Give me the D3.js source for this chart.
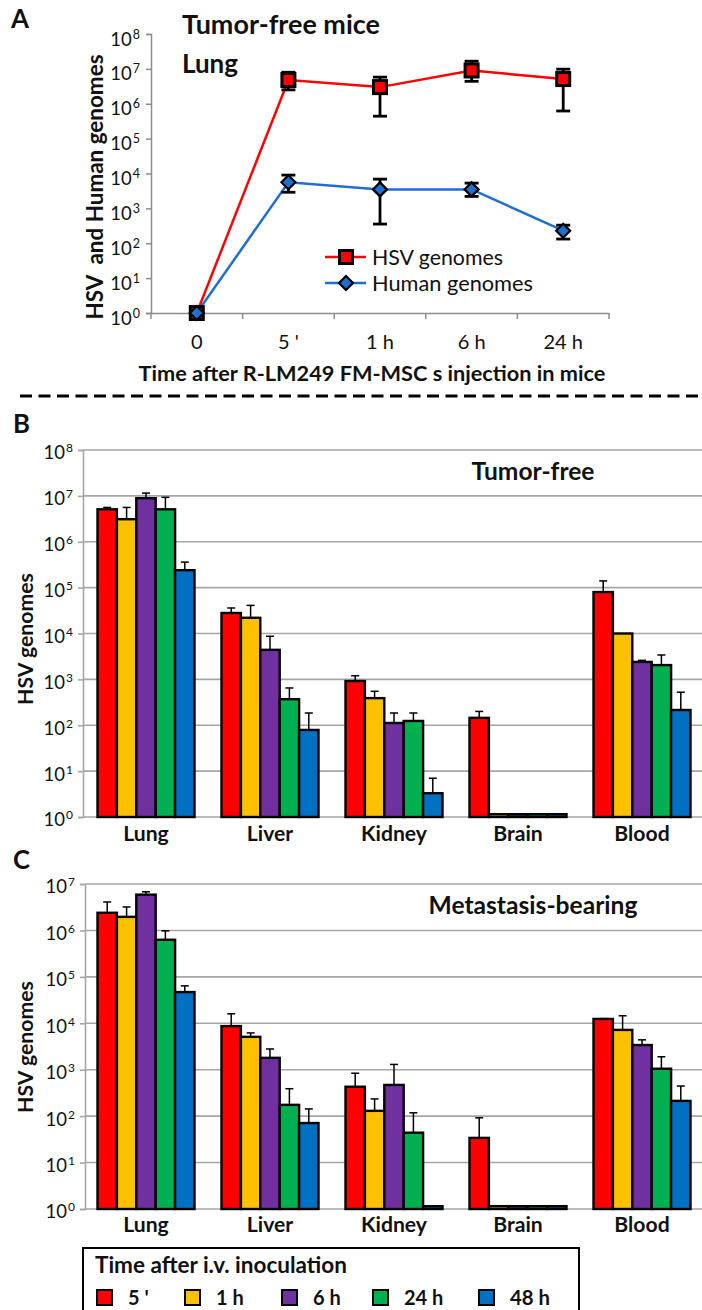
<!DOCTYPE html>
<html><head><meta charset="utf-8">
<script src="https://cdn.jsdelivr.net/npm/d3@7"></script>
<style>body{margin:0;background:#fff} svg text{font-family:Lato,'Open Sans',sans-serif;fill:#111}</style>
</head><body>
<svg id="c" width="702" height="1310"></svg>
<script>
// ---------- Panel A data ----------
const timepointsA = ["0", "5 '", "1 h", "6 h", "24 h"];
const hsvA      = [1, 4.8e6, 3.0e6, 9.0e6, 5.1e6];
const hsvALow   = [1, 2.5e6, 4.4e5, 4.4e6, 6.2e5];
const hsvAHigh  = [1, 8.0e6, 5.8e6, 1.66e7, 9.8e6];
const humanA     = [1, 5.6e3, 3.5e3, 3.5e3, 229];
const humanALow  = [1, 2.9e3, 355, 2.2e3, 132];
const humanAHigh = [1, 9.0e3, 6.9e3, 5.3e3, 330];

// ---------- Panels B / C data ----------
const organs = ["Lung", "Liver", "Kidney", "Brain", "Blood"];
const times = ["5 '", "1 h", "6 h", "24 h", "48 h"];
const timeColors = ["#FF0000", "#FFC000", "#7030A0", "#00B050", "#0070C0"];

// Tumor-free (B), one array per time point, ordered by organ
const b5m  = [5.1e6, 2.8e4, 920, 145, 8.0e4];
const b1h  = [3.1e6, 2.2e4, 390, 1.15, 1.0e4];
const b6h  = [8.9e6, 4.4e3, 112, 1.15, 2.4e3];
const b24h = [5.1e6, 370, 124, 1.15, 2.05e3];
const b48h = [2.4e5, 79, 3.3, 1.15, 215];
const b5mErr  = [5.6e6, 3.6e4, 1.2e3, 200, 1.4e5];
const b1hErr  = [5.6e6, 4.1e4, 550, null, null];
const b6hErr  = [1.15e7, 8.7e3, 185, null, 2.6e3];
const b24hErr = [9.3e6, 650, 185, null, 3.4e3];
const b48hErr = [3.6e5, 185, 7, null, 525];

// Metastasis-bearing (C)
const c5m  = [2.4e6, 8.7e3, 430, 34, 1.24e4];
const c1h  = [1.96e6, 5.1e3, 130, 1.15, 7.2e3];
const c6h  = [5.9e6, 1.8e3, 470, 1.15, 3.4e3];
const c24h = [6.3e5, 175, 44, 1.15, 1.05e3];
const c48h = [4.7e4, 71, 1.15, 1.15, 213];
const c5mErr  = [4.1e6, 1.6e4, 840, 92, 1.26e4];
const c1hErr  = [3.2e6, 6.2e3, 235, null, 1.45e4];
const c6hErr  = [6.8e6, 2.8e3, 1.3e3, null, 4.4e3];
const c24hErr = [9.8e5, 390, 118, null, 1.9e3];
const c48hErr = [6.4e4, 143, null, null, 445];

const svg = d3.select("#c");
const GRAY = "#8c8c8c";

// scale a text's font size so that its rendered width matches the reference
function fit(sel, w) {
  const cur = +sel.attr("font-size");
  const len = sel.node().getComputedTextLength();
  if (len > 0) sel.attr("font-size", (cur * w / len).toFixed(2));
  return sel;
}

function supLabels(sel, size, supSize, dy, mainDy) {
  sel.selectAll(".tick text").each(function(d) {
    const t = d3.select(this).text("");
    t.append("tspan").text("10");
    t.append("tspan").attr("dx", 1).attr("dy", dy).attr("font-size", supSize).text(Math.round(Math.log10(d)));
  }).attr("font-size", size).attr("fill", "#111").attr("dy", mainDy);
}

// ================= PANEL A =================
(function() {
  const x0 = 151, x1 = 609, yTop = 34, yBot = 313;
  const x = d3.scaleBand().domain(timepointsA).range([x0, x1]);
  const y = d3.scaleLog().domain([1, 1e8]).range([yBot, yTop]);
  const decades = d3.range(0, 9).map(e => Math.pow(10, e));
  const g = svg.append("g");

  const ya = g.append("g").attr("transform", `translate(${x0},0)`)
    .call(d3.axisLeft(y).tickValues(decades).tickSize(5).tickPadding(6).tickFormat(() => ""));
  ya.select(".domain").attr("stroke", GRAY).attr("stroke-width", 1.5);
  ya.selectAll(".tick line").attr("stroke", GRAY).attr("stroke-width", 1.5);
  supLabels(ya, 18.5, 12.5, -7, "0.6em");

  const xa = g.append("g").attr("transform", `translate(0,${yBot})`)
    .call(d3.axisBottom(x).tickSize(0).tickPadding(22));
  xa.select(".domain").attr("stroke", GRAY).attr("stroke-width", 1.5);
  xa.selectAll(".tick text").attr("font-size", 20).attr("fill", "#111");
  const bounds = timepointsA.map(d => x(d)).concat([x1]);
  g.selectAll(".xtk").data(bounds).join("line")
    .attr("x1", d => d).attr("x2", d => d).attr("y1", yBot).attr("y2", yBot + 6)
    .attr("stroke", GRAY).attr("stroke-width", 1.5);

  const cx = d => x(d) + x.bandwidth() / 2;
  const line = d3.line().x(d => cx(d.t)).y(d => y(d.v));
  const hsv = timepointsA.map((t, i) => ({t, v: hsvA[i], lo: hsvALow[i], hi: hsvAHigh[i]}));
  const hum = timepointsA.map((t, i) => ({t, v: humanA[i], lo: humanALow[i], hi: humanAHigh[i]}));

  g.append("path").datum(hsv).attr("d", line).attr("fill", "none").attr("stroke", "#FF0000").attr("stroke-width", 2.5);
  g.append("path").datum(hum).attr("d", line).attr("fill", "none").attr("stroke", "#1F6FD0").attr("stroke-width", 2.5);

  function errBars(data) {
    const eb = g.append("g").attr("stroke", "#000").attr("stroke-width", 2.8);
    data.filter(d => d.hi > d.lo).forEach(d => {
      eb.append("line").attr("x1", cx(d.t)).attr("x2", cx(d.t)).attr("y1", y(d.hi)).attr("y2", y(d.lo));
      eb.append("line").attr("x1", cx(d.t) - 7).attr("x2", cx(d.t) + 7).attr("y1", y(d.hi)).attr("y2", y(d.hi));
      eb.append("line").attr("x1", cx(d.t) - 7).attr("x2", cx(d.t) + 7).attr("y1", y(d.lo)).attr("y2", y(d.lo));
    });
  }
  errBars(hsv);
  errBars(hum);

  const sq = 13;
  g.selectAll(".sq").data(hsv).join("rect")
    .attr("x", d => cx(d.t) - sq / 2).attr("y", d => y(d.v) - sq / 2)
    .attr("width", sq).attr("height", sq)
    .attr("fill", "#FF0000").attr("stroke", "#000").attr("stroke-width", 3);
  const dm = 7;
  const diamond = (px, py) => `M${px},${py - dm}L${px + dm},${py}L${px},${py + dm}L${px - dm},${py}Z`;
  g.selectAll(".dm").data(hum).join("path")
    .attr("d", d => diamond(cx(d.t), y(d.v)))
    .attr("fill", "#1F6FD0").attr("stroke", "#000").attr("stroke-width", 2.2);

  // legend
  const lg = g.append("g");
  lg.append("line").attr("x1", 325).attr("x2", 366).attr("y1", 257).attr("y2", 257).attr("stroke", "#FF0000").attr("stroke-width", 2.5);
  lg.append("rect").attr("x", 346 - sq / 2).attr("y", 257 - sq / 2).attr("width", sq).attr("height", sq)
    .attr("fill", "#FF0000").attr("stroke", "#000").attr("stroke-width", 3);
  fit(lg.append("text").attr("x", 372).attr("y", 257).attr("dy", "0.36em").attr("font-size", 19).text("HSV genomes"), 131);
  lg.append("line").attr("x1", 325).attr("x2", 366).attr("y1", 283).attr("y2", 283).attr("stroke", "#1F6FD0").attr("stroke-width", 2.5);
  lg.append("path").attr("d", diamond(346, 283)).attr("fill", "#1F6FD0").attr("stroke", "#000").attr("stroke-width", 2.2);
  fit(lg.append("text").attr("x", 372).attr("y", 283).attr("dy", "0.36em").attr("font-size", 19).text("Human genomes"), 161);

  // titles & labels
  fit(g.append("text").attr("x", 11).attr("y", 28).attr("font-size", 24).attr("font-weight", 700).text("A"), 18);
  fit(g.append("text").attr("x", 182).attr("y", 34).attr("font-size", 22).attr("font-weight", 700).text("Tumor-free mice"), 198);
  fit(g.append("text").attr("x", 182).attr("y", 73).attr("font-size", 22).attr("font-weight", 700).text("Lung"), 56);
  fit(g.append("text").attr("transform", "translate(95,187) rotate(-90)").attr("text-anchor", "middle")
    .attr("dy", "0.35em").attr("font-size", 19).attr("font-weight", 700).attr("xml:space", "preserve")
    .text("HSV  and Human genomes"), 265);
  fit(g.append("text").attr("x", 372).attr("y", 381).attr("text-anchor", "middle")
    .attr("font-size", 19).attr("font-weight", 700).text("Time after R-LM249 FM-MSC s injection in mice"), 467);
})();

// dashed separator
svg.append("line").attr("x1", 20).attr("x2", 702).attr("y1", 396).attr("y2", 396)
  .attr("stroke", "#000").attr("stroke-width", 3).attr("stroke-dasharray", "12,6.5");

// ================= PANELS B & C =================
const catWidths = {Lung: 45, Liver: 45, Kidney: 66, Brain: 50, Blood: 55};
function barPanel(opts) {
  const {letter, letterY, yTop, yBot, maxExp, series, errs, title, titleW, titleY, axisX, labelY, ylabelY} = opts;
  const g = svg.append("g");
  const x = d3.scaleBand().domain(organs).range([84, 704]);
  const groupW = 97;
  const xi = d3.scaleBand().domain(times).range([0, groupW]);
  const y = d3.scaleLog().domain([1, Math.pow(10, maxExp)]).range([yBot, yTop]);
  const decades = d3.range(0, maxExp + 1).map(e => Math.pow(10, e));

  g.selectAll(".grid").data(decades).join("line")
    .attr("x1", axisX).attr("x2", 702).attr("y1", d => y(d)).attr("y2", d => y(d))
    .attr("stroke", "#a6a6a6").attr("stroke-width", 1.6);
  const ya = g.append("g").attr("transform", `translate(${axisX},0)`)
    .call(d3.axisLeft(y).tickValues(decades).tickSize(5).tickPadding(5).tickFormat(() => ""));
  ya.select(".domain").attr("stroke", "#a6a6a6").attr("stroke-width", 1.6);
  ya.selectAll(".tick line").attr("stroke", "#a6a6a6").attr("stroke-width", 1.6);
  supLabels(ya, 18.5, 12, -7, "0.48em");

  const gx = d => x(d) + (x.bandwidth() - groupW) / 2;
  series.forEach((vals, si) => {
    const t = times[si];
    const data = organs.map((o, i) => ({o, v: vals[i], e: errs[si][i]}));
    const eg = g.append("g").attr("stroke", "#000").attr("stroke-width", 1.5);
    data.filter(d => d.e != null).forEach(d => {
      const cx = gx(d.o) + xi(t) + xi.bandwidth() / 2;
      eg.append("line").attr("x1", cx).attr("x2", cx).attr("y1", y(d.v)).attr("y2", y(d.e));
      eg.append("line").attr("x1", cx - 4).attr("x2", cx + 4).attr("y1", y(d.e)).attr("y2", y(d.e));
    });
    g.append("g").selectAll("rect").data(data).join("rect")
      .attr("x", d => gx(d.o) + xi(t)).attr("width", xi.bandwidth())
      .attr("y", d => y(d.v)).attr("height", d => yBot - y(d.v))
      .attr("fill", timeColors[si]).attr("stroke", "#000").attr("stroke-width", 2.4);
  });

  const cats = g.selectAll(".cat").data(organs).join("text")
    .attr("x", d => x(d) + x.bandwidth() / 2).attr("y", labelY).attr("text-anchor", "middle")
    .attr("font-size", 18).attr("font-weight", 700).text(d => d);
  fit(cats.filter(d => d === "Kidney"), catWidths.Kidney);
  cats.attr("font-size", cats.filter(d => d === "Kidney").attr("font-size"));
  fit(g.append("text").attr("x", 533).attr("y", titleY).attr("text-anchor", "middle")
    .attr("font-size", 20).attr("font-weight", 700).text(title), titleW);
  fit(g.append("text").attr("x", 13).attr("y", letterY).attr("font-size", 24).attr("font-weight", 700).text(letter), 17);
  fit(g.append("text").attr("transform", `translate(26,${ylabelY}) rotate(-90)`).attr("text-anchor", "middle")
    .attr("dy", "0.35em").attr("font-size", 19).attr("font-weight", 700).text("HSV genomes"), 132);
}

barPanel({letter: "B", letterY: 433, yTop: 450, yBot: 817, maxExp: 8,
  series: [b5m, b1h, b6h, b24h, b48h], errs: [b5mErr, b1hErr, b6hErr, b24hErr, b48hErr],
  title: "Tumor-free", titleW: 123, titleY: 480, axisX: 83, labelY: 841, ylabelY: 639});

barPanel({letter: "C", letterY: 869, yTop: 884, yBot: 1209, maxExp: 7,
  series: [c5m, c1h, c6h, c24h, c48h], errs: [c5mErr, c1hErr, c6hErr, c24hErr, c48hErr],
  title: "Metastasis-bearing", titleW: 209, titleY: 914, axisX: 85, labelY: 1232, ylabelY: 1047});

// ================= LEGEND =================
(function() {
  const g = svg.append("g");
  g.append("rect").attr("x", 83).attr("y", 1248).attr("width", 496).attr("height", 80)
    .attr("fill", "#fff").attr("stroke", "#000").attr("stroke-width", 2);
  fit(g.append("text").attr("x", 95).attr("y", 1273).attr("font-size", 19).attr("font-weight", 700)
    .text("Time after i.v. inoculation"), 252);
  const swX = [97, 185, 282, 373, 479];
  times.forEach((t, i) => {
    g.append("rect").attr("x", swX[i]).attr("y", 1290).attr("width", 15).attr("height", 15)
      .attr("fill", timeColors[i]).attr("stroke", "#000").attr("stroke-width", 2);
    const tx = g.append("text").attr("x", swX[i] + 31).attr("y", 1305).attr("font-size", 20).attr("font-weight", 700)
      .attr("xml:space", "preserve").text(t);
    if (t === "48 h") fit(tx, 40);
  });
})();
</script>
</body></html>
